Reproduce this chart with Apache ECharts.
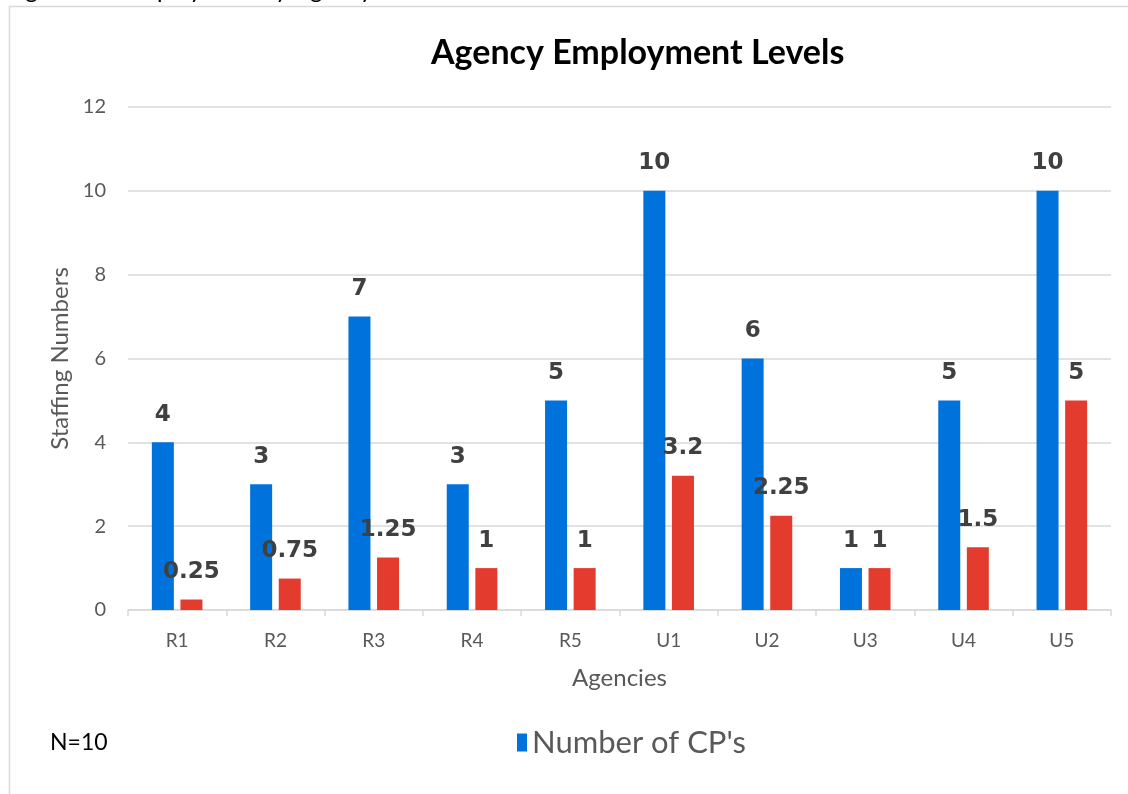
<!DOCTYPE html>
<html>
<head>
<meta charset="utf-8">
<title>Agency Employment Levels</title>
<script src="https://cdn.jsdelivr.net/npm/echarts@6/dist/echarts.min.js"></script>
<style>
    html, body { margin: 0; padding: 0; background: #fff; }
    #chart { width: 1128px; height: 794px; }
</style>
</head>
<body>
<div id="chart"></div>
<script>
    // agencies on the x axis
    var agencies = ['R1', 'R2', 'R3', 'R4', 'R5', 'U1', 'U2', 'U3', 'U4', 'U5'];
    // blue bars
    var cpCounts = [4, 3, 7, 3, 5, 10, 6, 1, 5, 10];
    // red bars (not listed in the legend)
    var otherCounts = [0.25, 0.75, 1.25, 1, 1, 3.2, 2.25, 1, 1.5, 5];
    var yTicks = [0, 2, 4, 6, 8, 10, 12];

    var labelStyle = {
        show: true,
        position: 'top',
        distance: 16,
        color: '#404040',
        fontFamily: 'DejaVu Sans',
        fontWeight: 'bold',
        fontSize: 23
    };

    var myChart = echarts.init(document.getElementById('chart'));
    var option = {
        backgroundColor: '#fff',
        animation: false,
        textStyle: { fontFamily: 'Lato' },
        title: {
            text: 'Agency Employment Levels',
            left: 426,
            top: 31,
            textStyle: {
                fontFamily: 'Lato',
                fontWeight: 'bold',
                fontSize: 34,
                color: '#000'
            }
        },
        graphic: [
            {
                // chart frame, only its top and left edges show
                type: 'rect',
                shape: { x: 9.5, y: 6.5, width: 1300, height: 1000 },
                style: { fill: 'none', stroke: '#d9d9d9', lineWidth: 1.5 },
                silent: true
            },
            {
                // caption above the frame, cut off by the page edge
                type: 'text',
                left: 6,
                top: -22,
                style: {
                    text: 'Figure 3.3: Employment by Agency',
                    font: '24px Lato',
                    fill: '#000'
                }
            },
            {
                type: 'text',
                left: 50,
                top: 731,
                style: {
                    text: 'N=10',
                    font: '23px Lato',
                    fill: '#000'
                }
            }
        ],
        legend: {
            data: ["Number of CP's"],
            left: 512,
            top: 722,
            icon: 'rect',
            itemWidth: 10,
            itemHeight: 18,
            itemGap: 4,
            textStyle: {
                fontFamily: 'Lato',
                fontSize: 31,
                color: '#595959'
            }
        },
        grid: {
            left: 128,
            right: 17,
            top: 107,
            bottom: 184
        },
        xAxis: {
            type: 'category',
            data: agencies,
            name: 'Agencies',
            nameLocation: 'middle',
            nameGap: 56,
            nameTextStyle: { fontSize: 24, color: '#595959', fontFamily: 'Lato' },
            axisLine: { lineStyle: { color: '#d9d9d9', width: 1.5 } },
            axisTick: { show: true, length: 6, lineStyle: { color: '#d9d9d9', width: 1.5 } },
            axisLabel: { fontSize: 19, color: '#595959', margin: 21, fontFamily: 'Lato' }
        },
        yAxis: {
            type: 'value',
            min: yTicks[0],
            max: yTicks[yTicks.length - 1],
            interval: 2,
            name: 'Staffing Numbers',
            nameLocation: 'middle',
            nameGap: 56,
            nameTextStyle: { fontSize: 24, color: '#595959', fontFamily: 'Lato' },
            axisLine: { show: false },
            axisTick: { show: false },
            axisLabel: { fontSize: 20, color: '#595959', margin: 22, fontFamily: 'Lato' },
            splitLine: { lineStyle: { color: '#d9d9d9', width: 1.5 } }
        },
        series: [
            {
                name: "Number of CP's",
                type: 'bar',
                data: cpCounts,
                barWidth: 22,
                barGap: '30%',
                itemStyle: { color: '#0072DC' },
                label: labelStyle
            },
            {
                name: 'Other staff',
                type: 'bar',
                data: otherCounts,
                barWidth: 22,
                itemStyle: { color: '#E43B2F' },
                label: labelStyle
            }
        ]
    };
    myChart.setOption(option);
</script>
</body>
</html>
